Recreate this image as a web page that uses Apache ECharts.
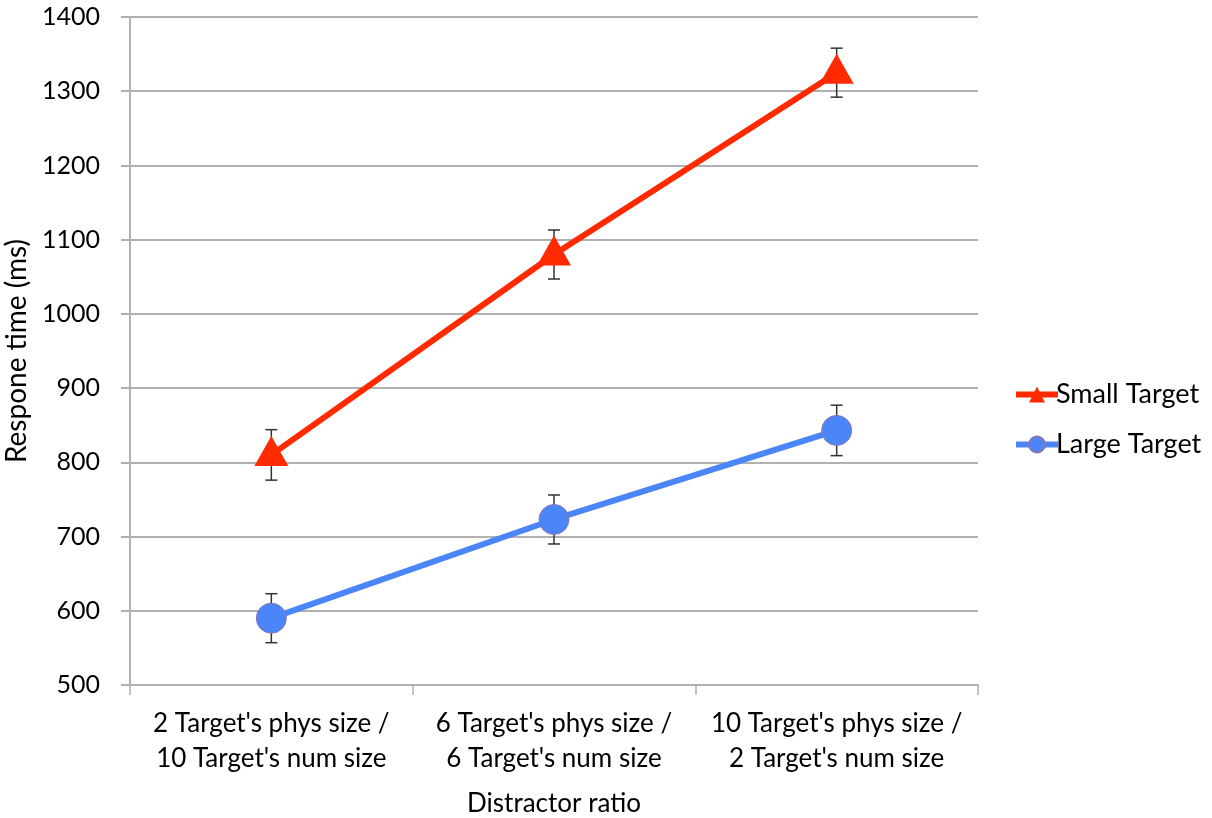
<!DOCTYPE html>
<html>
<head>
<meta charset="utf-8">
<script src="https://cdn.jsdelivr.net/npm/echarts@6/dist/echarts.min.js"></script>
<style>
  html, body { margin: 0; padding: 0; background: #fff; }
  #chart { width: 1212px; height: 818px; }
</style>
</head>
<body>
<div id="chart"></div>
<script>
// Distractor ratio conditions
const categories = [
  "2 Target's phys size /\n10 Target's num size",
  "6 Target's phys size /\n6 Target's num size",
  "10 Target's phys size /\n2 Target's num size"
];
// Mean response times (ms)
const smallTarget = [810, 1080, 1325];
const largeTarget = [590, 723, 843];
// Error bar half-widths (ms)
const smallErr = [34, 33, 33];
const largeErr = [33, 33, 34];
const yTicks = { min: 500, max: 1400, interval: 100 };

const FONT = 'Lato, "Open Sans", sans-serif';
const RED = '#ff2a00';
const BLUE = '#4a86f7';

function errorSeries(values, errs) {
  const data = values.map((v, i) => [i, v - errs[i], v + errs[i]]);
  return {
    type: 'custom',
    z: 1,
    silent: true,
    data: data,
    renderItem: function (params, api) {
      const x = api.value(0);
      const lo = api.coord([x, api.value(1)]);
      const hi = api.coord([x, api.value(2)]);
      const cap = 6;
      const style = { stroke: '#333', lineWidth: 1.5 };
      return {
        type: 'group',
        children: [
          { type: 'line', shape: { x1: lo[0], y1: lo[1], x2: hi[0], y2: hi[1] }, style },
          { type: 'line', shape: { x1: hi[0] - cap, y1: hi[1], x2: hi[0] + cap, y2: hi[1] }, style },
          { type: 'line', shape: { x1: lo[0] - cap, y1: lo[1], x2: lo[0] + cap, y2: lo[1] }, style }
        ]
      };
    }
  };
}

const chart = echarts.init(document.getElementById('chart'), null, { renderer: 'canvas' });
chart.setOption({
  animation: false,
  backgroundColor: '#fff',
  textStyle: { fontFamily: FONT },
  grid: { left: 130, right: 234, top: 17, bottom: 133, containLabel: false, outerBoundsMode: 'none' },
  legend: {
    orient: 'vertical',
    left: 1008,
    top: 376,
    itemGap: 23,
    itemWidth: 42,
    itemHeight: 20,
    lineStyle: { width: 6 },
    textStyle: { fontFamily: FONT, fontSize: 27, color: '#000', padding: [0, 0, 0, -7] },
    data: ['Small Target', 'Large Target']
  },
  xAxis: {
    type: 'category',
    data: categories,
    boundaryGap: true,
    name: 'Distractor ratio',
    nameLocation: 'middle',
    nameGap: 106,
    nameTextStyle: { fontFamily: FONT, fontSize: 26, color: '#000' },
    axisLine: { lineStyle: { color: '#b0b0b0', width: 2 } },
    axisTick: { show: true, length: 10, lineStyle: { color: '#b0b0b0', width: 1.5 } },
    axisLabel: {
      interval: 0, hideOverlap: false,
      fontFamily: FONT, fontSize: 26, color: '#000', margin: 21, lineHeight: 35
    }
  },
  yAxis: {
    type: 'value',
    min: yTicks.min,
    max: yTicks.max,
    interval: yTicks.interval,
    name: 'Respone time (ms)',
    nameLocation: 'middle',
    nameGap: 95,
    nameTextStyle: { fontFamily: FONT, fontSize: 28, color: '#000' },
    axisLine: { show: true, lineStyle: { color: '#b0b0b0', width: 2 } },
    axisTick: { show: true, length: 9, lineStyle: { color: '#b0b0b0', width: 2 } },
    axisLabel: { fontFamily: FONT, fontSize: 25, color: '#000', margin: 30, formatter: v => String(v) },
    splitLine: { show: true, lineStyle: { color: '#b0b0b0', width: 2 } }
  },
  series: [
    errorSeries(smallTarget, smallErr),
    errorSeries(largeTarget, largeErr),
    {
      name: 'Small Target',
      type: 'line',
      z: 3,
      data: smallTarget,
      symbol: 'triangle',
      symbolSize: [34, 30],
      symbolOffset: [0, -4],
      lineStyle: { color: RED, width: 6 },
      itemStyle: { color: RED }
    },
    {
      name: 'Large Target',
      type: 'line',
      z: 3,
      data: largeTarget,
      symbol: 'circle',
      symbolSize: 30,
      lineStyle: { color: BLUE, width: 6 },
      itemStyle: { color: BLUE, borderColor: '#8a76b0', borderWidth: 1 }
    }
  ]
});
</script>
</body>
</html>
